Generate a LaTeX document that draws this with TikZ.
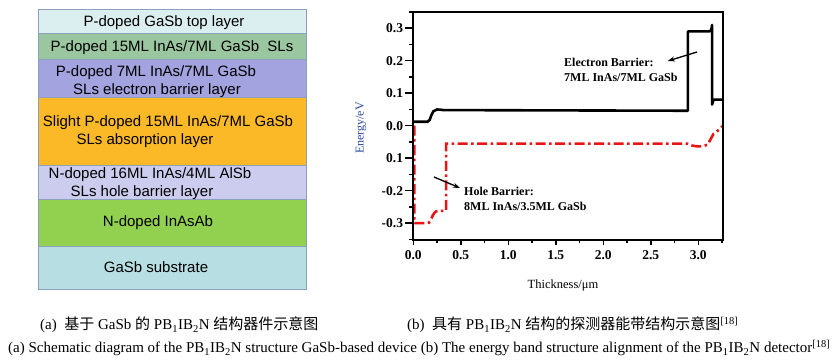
\documentclass[tikz,border=0pt]{standalone}
\usepackage{fontspec}
\setmainfont{Liberation Serif}
\newfontfamily\arialf{Liberation Sans}
\newfontfamily\cjk{Noto Sans CJK SC}
\usetikzlibrary{arrows.meta}
\definecolor{layA}{RGB}{219,238,240}
\definecolor{layB}{RGB}{155,199,160}
\definecolor{layC}{RGB}{163,163,224}
\definecolor{layD}{RGB}{251,185,40}
\definecolor{layE}{RGB}{204,204,238}
\definecolor{layF}{RGB}{146,208,80}
\definecolor{layG}{RGB}{183,222,226}
\definecolor{layBd}{RGB}{140,160,190}
\definecolor{holered}{RGB}{235,20,20}
\definecolor{ylabblue}{RGB}{40,70,160}
\tikzset{
  laybox/.style={draw=layBd, line width=0.8pt},
  laytext/.style={font=\arialf\fontsize{15}{17}\selectfont, inner sep=0pt, anchor=base},
  ticklab/.style={font=\bfseries\fontsize{13.5}{15}\selectfont, inner sep=0pt},
  anntext/.style={font=\bfseries\fontsize{12}{14}\selectfont, inner sep=0pt, anchor=west},
  ecurve/.style={line width=2.6pt, black, line join=round},
  hcurve/.style={line width=2.6pt, holered, dash pattern=on 10pt off 3.5pt on 2.5pt off 3.5pt},
  annarrow/.style={line width=1.3pt, -{Stealth[length=7pt,width=5pt]}},
  captext/.style={inner sep=0pt, anchor=base west, font=\fontsize{15}{17}\selectfont}
}
\begin{document}
\begin{tikzpicture}[x=1pt,y=1pt]
\useasboundingbox (0,0) rectangle (836,363);
\fill[white] (0,0) rectangle (836,363);
% ---------- layer stack ----------
\draw[laybox, fill=layA] (38,330) rectangle (306,354);
\draw[laybox, fill=layB] (38,304) rectangle (306,330);
\draw[laybox, fill=layC] (38,266) rectangle (306,304);
\draw[laybox, fill=layD] (38,198) rectangle (306,266);
\draw[laybox, fill=layE] (38,164) rectangle (306,198);
\draw[laybox, fill=layF] (38,117) rectangle (306,164);
\draw[laybox, fill=layG] (38,74) rectangle (306,117);
\node[laytext] (t1) at (164,336) {P-doped GaSb top layer};
\node[laytext] (t2) at (172,311) {P-doped 15ML InAs/7ML GaSb\ \ SLs};
\node[laytext] (t3a) at (156,286.5) {P-doped 7ML InAs/7ML GaSb};
\node[laytext] (t3b) at (157,268.5) {SLs electron barrier layer};
\node[laytext] (t4a) at (168,236) {Slight P-doped 15ML InAs/7ML GaSb};
\node[laytext] (t4b) at (145,218) {SLs absorption layer};
\node[laytext] (t5a) at (150,184) {N-doped 16ML InAs/4ML AlSb};
\node[laytext] (t5b) at (142,166.5) {SLs hole barrier layer};
\node[laytext] (t6) at (158,136.5) {N-doped InAsAb};
\node[laytext] (t7) at (156,90) {GaSb substrate};
% ---------- band plot ----------
\begin{scope}[shift={(413.3,237.3)}, x=95pt, y=325pt]
  \foreach \v in {-0.3,-0.2,-0.1,0,0.1,0.2,0.3} \draw[line width=1.5pt] (0,\v) -- ++(-8pt,0);
  \foreach \v in {-0.35,-0.25,-0.15,-0.05,0.05,0.15,0.25,0.35} \draw[line width=1.5pt] (0,\v) -- ++(-4pt,0);
  \foreach \u in {0,0.5,1,1.5,2,2.5,3} \draw[line width=1.5pt] (\u,-0.352) -- ++(0,-5pt);
  \foreach \u in {0.25,0.75,1.25,1.75,2.25,2.75,3.25} \draw[line width=1.5pt] (\u,-0.352) -- ++(0,-3pt);
  \foreach \v/\t [count=\i] in {0.3/0.3,0.2/0.2,0.1/0.1,0/0.0,-0.1/0.1,-0.2/-0.2,-0.3/-0.3}
    \node[ticklab, anchor=east] (yl\i) at ([xshift=-10pt]0,\v) {\t};
  \foreach \u/\t [count=\i] in {0/0.0,0.5/0.5,1/1.0,1.5/1.5,2/2.0,2.5/2.5,3/3.0}
    \node[ticklab] (xl\i) at ([yshift=-15pt]\u,-0.352) {\t};
  \draw[hcurve] (0.012,0) -- (0.012,-0.3) -- (0.15,-0.3)
     .. controls (0.19,-0.3) and (0.2,-0.262) .. (0.26,-0.262) -- (0.345,-0.262)
     -- (0.345,-0.055) -- (2.88,-0.055)
     .. controls (2.95,-0.066) and (3.05,-0.066) .. (3.1,-0.058)
     -- (3.16,-0.025) -- (3.22,-0.012) -- (3.26,0.0);
  \draw[ecurve] (0,0.012) -- (0.15,0.012)
     .. controls (0.19,0.012) and (0.18,0.05) .. (0.25,0.05) -- (0.32,0.048)
     -- (2.89,0.046) -- (2.89,0.29) -- (3.11,0.29)
     .. controls (3.14,0.29) and (3.14,0.30) .. (3.145,0.31)
     -- (3.145,0.065) -- (3.16,0.08) -- (3.26,0.08);
  \draw[line width=1.8pt] (0,-0.352) rectangle (3.26,0.35);
\end{scope}
\node[font=\fontsize{12.5}{14}\selectfont, inner sep=0pt] (xlab) at (563,77) {Thickness/μm};
\node[font=\fontsize{12}{14}\selectfont, text=ylabblue, rotate=90, inner sep=0pt] (ylab) at (361,235) {Energy/eV};
\node[anntext] (eb1) at (564,301) {Electron Barrier:};
\node[anntext] (eb2) at (564,286) {7ML InAs/7ML GaSb};
\node[anntext] (hb1) at (464,172) {Hole Barrier:};
\node[anntext] (hb2) at (464,157) {8ML InAs/3.5ML GaSb};
\coordinate (ea) at (697,311);
\coordinate (ha) at (434,186);
\draw[annarrow] (ea) -- ([xshift=14pt,yshift=1pt]eb1.east);
\draw[annarrow] (ha) -- ([xshift=-4pt,yshift=3pt]hb1.west);
% ---------- captions ----------
\node[captext] (capa) at (40,33) {(a)\ \ {\cjk 基于} GaSb {\cjk 的} PB\textsubscript{1}IB\textsubscript{2}N {\cjk 结构器件示意图}};
\node[captext] (capb) at (407,33) {(b)\ \ {\cjk 具有} PB\textsubscript{1}IB\textsubscript{2}N {\cjk 结构的探测器能带结构示意图}\textsuperscript{[18]}};
\node[captext] (cape) at (8,10) {(a) Schematic diagram of the PB\textsubscript{1}IB\textsubscript{2}N structure GaSb-based device (b) The energy band structure alignment of the PB\textsubscript{1}IB\textsubscript{2}N detector\textsuperscript{[18]}};
\end{tikzpicture}
\end{document}
